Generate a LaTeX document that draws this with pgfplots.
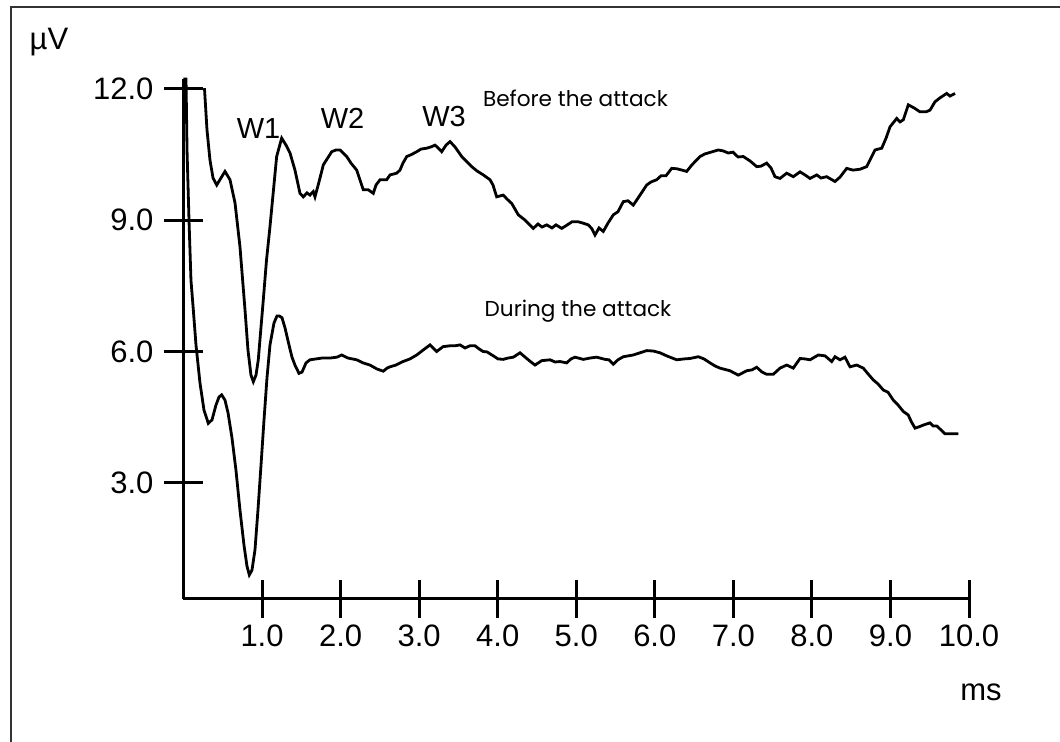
\documentclass[border=0pt]{standalone}
\usepackage{pgfplots}
\pgfplotsset{compat=1.18}
\usepackage{fontspec}
\setmainfont{Liberation Sans}
\newfontfamily\gothic{Poppins}
\begin{document}
\begin{tikzpicture}
\path[use as bounding box] (-91.75pt,-71.5pt) rectangle (438.25pt,299.5pt);
\draw[line width=1pt, black!80] (-86pt,-71.5pt) -- (-86pt,295.75pt) -- (438.25pt,295.75pt);
\begin{axis}[
    scale only axis,
    width=392.75pt,
    height=260pt,
    xmin=0, xmax=10,
    ymin=0.35, ymax=12.22,
    axis lines*=left,
    axis line style={line width=1.5pt},
    xtick={1,2,...,10},
    ytick={3,6,9,12},
    tick align=center,
    major tick length=19pt,
    tick style={line width=1.5pt, black},
    ticklabel style={font=\fontsize{15.5}{18}\selectfont},
    yticklabel style={xshift=-2pt},
    /pgf/number format/assume math mode=true,
    /pgf/number format/fixed,
    /pgf/number format/fixed zerofill,
    /pgf/number format/precision=1,
    clip=false,
]
% before the attack
\addplot[black, line width=1.4pt] coordinates {
(0.267,12.01)(0.299,11.06)(0.337,10.37)(0.376,9.96)(0.423,9.80)(0.477,9.96)(0.528,10.11)(0.592,9.92)
(0.656,9.39)(0.719,8.39)(0.783,6.95)(0.821,6.03)(0.859,5.46)(0.889,5.31)(0.923,5.46)(0.952,5.81)
(1.016,7.18)(1.057,8.09)(1.101,8.85)(1.186,10.45)(1.250,10.87)(1.305,10.71)(1.356,10.53)(1.419,10.14)
(1.483,9.61)(1.525,9.53)(1.572,9.62)(1.610,9.57)(1.652,9.65)(1.674,9.53)(1.725,9.87)(1.780,10.26)
(1.887,10.56)(1.941,10.60)(1.992,10.60)(2.078,10.45)(2.132,10.30)(2.205,10.14)(2.289,9.69)(2.353,9.69)
(2.416,9.61)(2.451,9.80)(2.502,9.92)(2.587,9.92)(2.629,10.03)(2.714,10.07)(2.756,10.14)(2.794,10.30)
(2.842,10.45)(2.896,10.49)(2.969,10.56)(3.024,10.62)(3.096,10.64)(3.151,10.67)(3.202,10.71)(3.240,10.65)
(3.287,10.56)(3.342,10.71)(3.393,10.79)(3.456,10.67)(3.542,10.45)(3.596,10.35)(3.669,10.22)(3.737,10.12)
(3.817,10.03)(3.902,9.92)(3.940,9.80)(3.987,9.53)(4.029,9.55)(4.071,9.57)(4.118,9.48)(4.178,9.38)
(4.262,9.12)(4.347,9.00)(4.453,8.81)(4.513,8.91)(4.564,8.84)(4.624,8.89)(4.691,8.82)(4.742,8.89)
(4.815,8.81)(4.869,8.87)(4.946,8.96)(5.026,8.96)(5.086,8.93)(5.153,8.89)(5.200,8.80)(5.239,8.66)
(5.290,8.82)(5.344,8.74)(5.404,8.93)(5.472,9.12)(5.531,9.19)(5.599,9.42)(5.659,9.44)(5.726,9.34)
(5.812,9.57)(5.897,9.80)(5.952,9.87)(6.024,9.92)(6.079,10.01)(6.142,10.01)(6.215,10.18)(6.283,10.17)
(6.346,10.14)(6.406,10.11)(6.473,10.26)(6.575,10.45)(6.639,10.51)(6.715,10.55)(6.808,10.60)(6.868,10.58)
(6.936,10.53)(6.995,10.55)(7.059,10.44)(7.127,10.45)(7.212,10.35)(7.297,10.22)(7.352,10.23)(7.424,10.30)
(7.479,10.19)(7.530,9.99)(7.594,9.95)(7.679,10.07)(7.721,10.03)(7.763,9.99)(7.849,10.10)(7.912,10.03)
(7.976,9.95)(8.061,10.03)(8.116,9.96)(8.188,9.99)(8.294,9.88)(8.358,9.98)(8.443,10.18)(8.523,10.14)
(8.612,10.16)(8.698,10.22)(8.740,10.37)(8.804,10.60)(8.889,10.64)(8.944,10.87)(8.995,11.13)(9.080,11.32)
(9.122,11.24)(9.164,11.29)(9.227,11.63)(9.300,11.56)(9.376,11.47)(9.453,11.47)(9.504,11.51)(9.567,11.70)
(9.631,11.79)(9.716,11.89)(9.758,11.83)(9.822,11.89)
};
% during the attack
\addplot[black, line width=1.4pt] coordinates {
(0.000,12.22)(0.032,12.22)(0.045,10.59)(0.070,9.00)(0.095,7.63)(0.125,6.95)(0.159,6.15)(0.210,5.28)
(0.261,4.66)(0.316,4.36)(0.363,4.44)(0.414,4.78)(0.452,4.96)(0.486,5.01)(0.528,4.89)(0.567,4.60)
(0.617,4.03)(0.668,3.29)(0.719,2.38)(0.770,1.58)(0.808,1.10)(0.838,0.90)(0.872,1.01)(0.910,1.47)
(0.948,2.38)(0.987,3.41)(1.025,4.44)(1.063,5.40)(1.101,6.15)(1.152,6.65)(1.190,6.81)(1.220,6.81)
(1.254,6.77)(1.292,6.54)(1.343,6.15)(1.381,5.87)(1.419,5.69)(1.470,5.50)(1.509,5.53)(1.560,5.74)
(1.610,5.81)(1.687,5.83)(1.763,5.85)(1.865,5.85)(1.954,5.87)(2.014,5.92)(2.094,5.85)(2.205,5.81)
(2.285,5.74)(2.374,5.69)(2.463,5.60)(2.544,5.55)(2.591,5.62)(2.629,5.65)(2.705,5.69)(2.794,5.77)
(2.883,5.83)(2.969,5.92)(3.049,6.03)(3.138,6.15)(3.223,6.00)(3.304,6.11)(3.393,6.13)(3.456,6.13)
(3.520,6.15)(3.584,6.08)(3.647,6.13)(3.711,6.13)(3.762,6.06)(3.813,6.00)(3.864,5.99)(3.944,5.90)
(4.004,5.83)(4.071,5.82)(4.131,5.85)(4.199,5.87)(4.284,5.97)(4.369,5.84)(4.424,5.76)(4.475,5.69)
(4.560,5.79)(4.666,5.81)(4.730,5.76)(4.793,5.77)(4.878,5.74)(4.933,5.83)(4.984,5.87)(5.090,5.82)
(5.175,5.85)(5.260,5.87)(5.366,5.82)(5.417,5.81)(5.472,5.71)(5.531,5.81)(5.599,5.88)(5.726,5.92)
(5.812,5.97)(5.897,6.02)(5.981,6.01)(6.066,5.97)(6.151,5.90)(6.279,5.81)(6.372,5.83)(6.448,5.84)
(6.554,5.88)(6.626,5.83)(6.703,5.74)(6.766,5.67)(6.830,5.62)(6.957,5.56)(7.063,5.46)(7.170,5.56)
(7.237,5.58)(7.297,5.64)(7.365,5.53)(7.424,5.48)(7.509,5.48)(7.594,5.62)(7.679,5.69)(7.763,5.62)
(7.849,5.84)(7.912,5.83)(7.976,5.81)(8.082,5.92)(8.167,5.90)(8.252,5.77)(8.294,5.88)(8.358,5.81)
(8.421,5.87)(8.485,5.65)(8.570,5.69)(8.654,5.62)(8.714,5.49)(8.782,5.35)(8.841,5.26)(8.909,5.12)
(8.969,5.07)(9.036,4.89)(9.096,4.78)(9.164,4.63)(9.227,4.55)(9.262,4.41)(9.313,4.25)(9.364,4.28)
(9.418,4.32)(9.503,4.37)(9.542,4.30)(9.589,4.30)(9.643,4.21)(9.694,4.12)(9.780,4.12)(9.864,4.12)
};
\end{axis}
\node[font=\fontsize{15.5}{18}\selectfont] at (-67.25pt,278.5pt) {µV};
\node[font=\fontsize{15.5}{18}\selectfont] at (398.75pt,-46.5pt) {ms};
\node[font=\fontsize{14.5}{17}\selectfont] at (37.5pt,235.25pt) {W1};
\node[font=\fontsize{14.5}{17}\selectfont] at (79.5pt,240.25pt) {W2};
\node[font=\fontsize{14.5}{17}\selectfont] at (130.25pt,241.25pt) {W3};
\node[font=\gothic\fontsize{10.8}{13}\selectfont] at (196pt,250.5pt) {Before the attack};
\node[font=\gothic\fontsize{10.8}{13}\selectfont] at (197.25pt,144pt) {During the attack};
\end{tikzpicture}
\end{document}
